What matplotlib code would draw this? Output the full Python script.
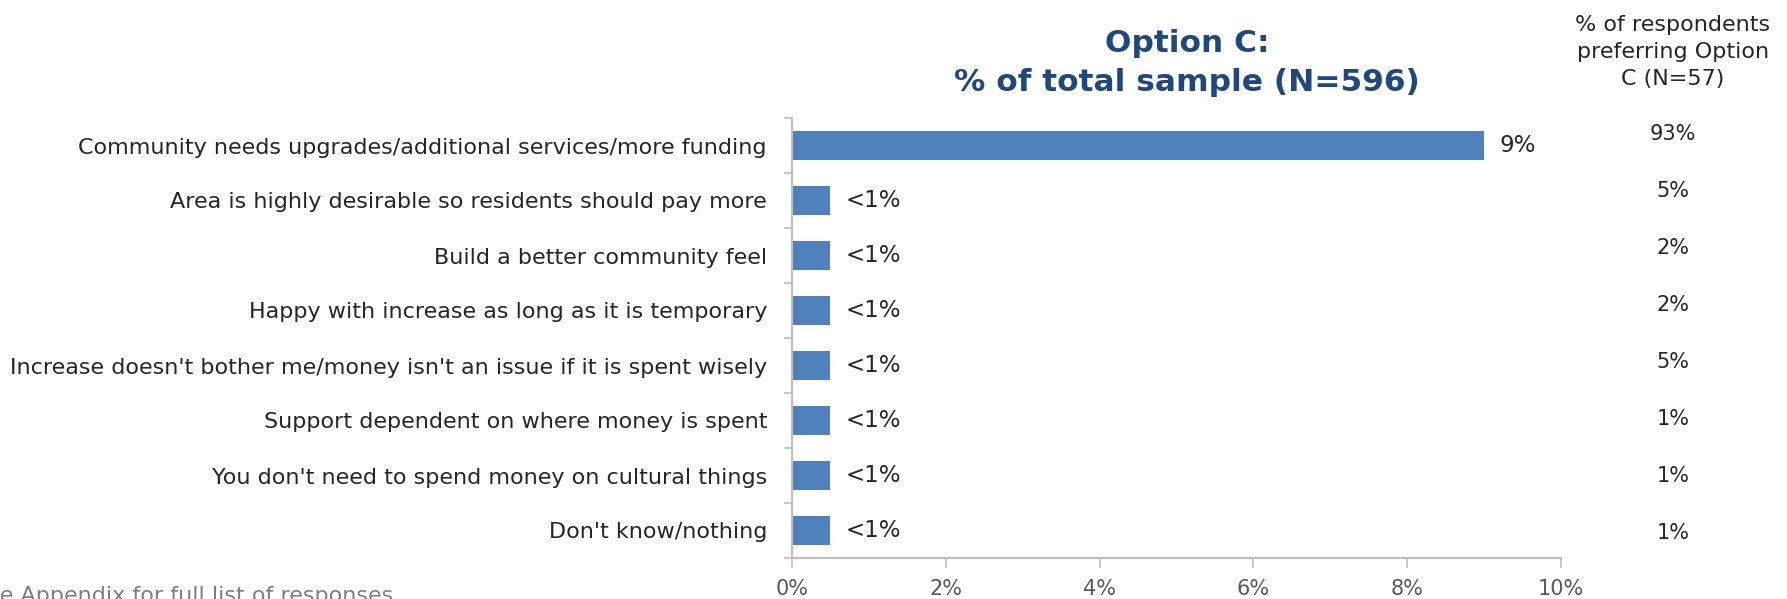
import matplotlib
matplotlib.use("Agg")
import matplotlib.pyplot as plt
from matplotlib.ticker import FixedLocator, PercentFormatter

plt.rcParams['font.family'] = ['DejaVu Sans']

categories = [
    "Community needs upgrades/additional services/more funding",
    "Area is highly desirable so residents should pay more",
    "Build a better community feel",
    "Happy with increase as long as it is temporary",
    "Increase doesn't bother me/money isn't an issue if it is spent wisely",
    "Support dependent on where money is spent",
    "You don't need to spend money on cultural things",
    "Don't know/nothing",
]
total_pct = [9.0, 0.5, 0.5, 0.5, 0.5, 0.5, 0.5, 0.5]
total_labels = ["9%", "<1%", "<1%", "<1%", "<1%", "<1%", "<1%", "<1%"]
option_c_labels = ["93%", "5%", "2%", "2%", "5%", "1%", "1%", "1%"]
x_ticks = [0, 2, 4, 6, 8, 10]

BAR = "#4F81BD"
AXIS = "#BFBFBF"
TITLE = "#1F497D"
TEXT = "#262626"
TICK = "#595959"

W, H = 1787, 599
fig = plt.figure(figsize=(W / 100, H / 100), dpi=100)
ax = fig.add_axes([792 / W, 1 - 558 / H, (1561 - 792) / W, (558 - 118) / H])

ypos = list(range(len(categories)))
ax.barh(ypos, total_pct, height=0.52, color=BAR)
ax.set_ylim(len(categories) - 0.5, -0.5)
ax.set_xlim(0, 10)

ax.set_yticks(ypos)
ax.set_yticklabels(categories, fontsize=16, color=TEXT)
ax.tick_params(axis='y', which='major', length=0, pad=18)
ax.yaxis.set_minor_locator(FixedLocator([i - 0.5 for i in range(len(categories) + 1)]))
ax.tick_params(axis='y', which='minor', length=6, color=AXIS, width=1.2)

ax.xaxis.set_major_locator(FixedLocator(x_ticks))
ax.xaxis.set_major_formatter(PercentFormatter(decimals=0))
ax.tick_params(axis='x', length=7, color=AXIS, width=1.2, labelsize=15,
               labelcolor=TICK, pad=8)

for side in ("top", "right"):
    ax.spines[side].set_visible(False)
for side in ("left", "bottom"):
    ax.spines[side].set_color(AXIS)
    ax.spines[side].set_linewidth(1.5)

for y, v, lab in zip(ypos, total_pct, total_labels):
    ax.annotate(lab, xy=(v, y), xytext=(11, 0), textcoords="offset points",
                va="center", ha="left", fontsize=16.5, color=TEXT)

fig.text(1187 / W, 1 - 63 / H, "Option C:\n% of total sample (N=596)",
         ha="center", va="center", fontsize=22.5, fontweight="bold",
         color=TITLE, linespacing=1.4)

fig.text(1673 / W, 1 - 52 / H, "% of respondents\npreferring Option\nC (N=57)",
         ha="center", va="center", fontsize=16, color=TEXT, linespacing=1.45)

for i, lab in enumerate(option_c_labels):
    fig.text(1673 / W, 1 - (134 + 57 * i) / H, lab, ha="center", va="center",
             fontsize=15, color=TEXT)

fig.text(393 / W, 1 - 596 / H, "See Appendix for full list of responses",
         ha="right", va="center", fontsize=16, color="#7F7F7F")

fig.savefig("out.png", dpi=100)
